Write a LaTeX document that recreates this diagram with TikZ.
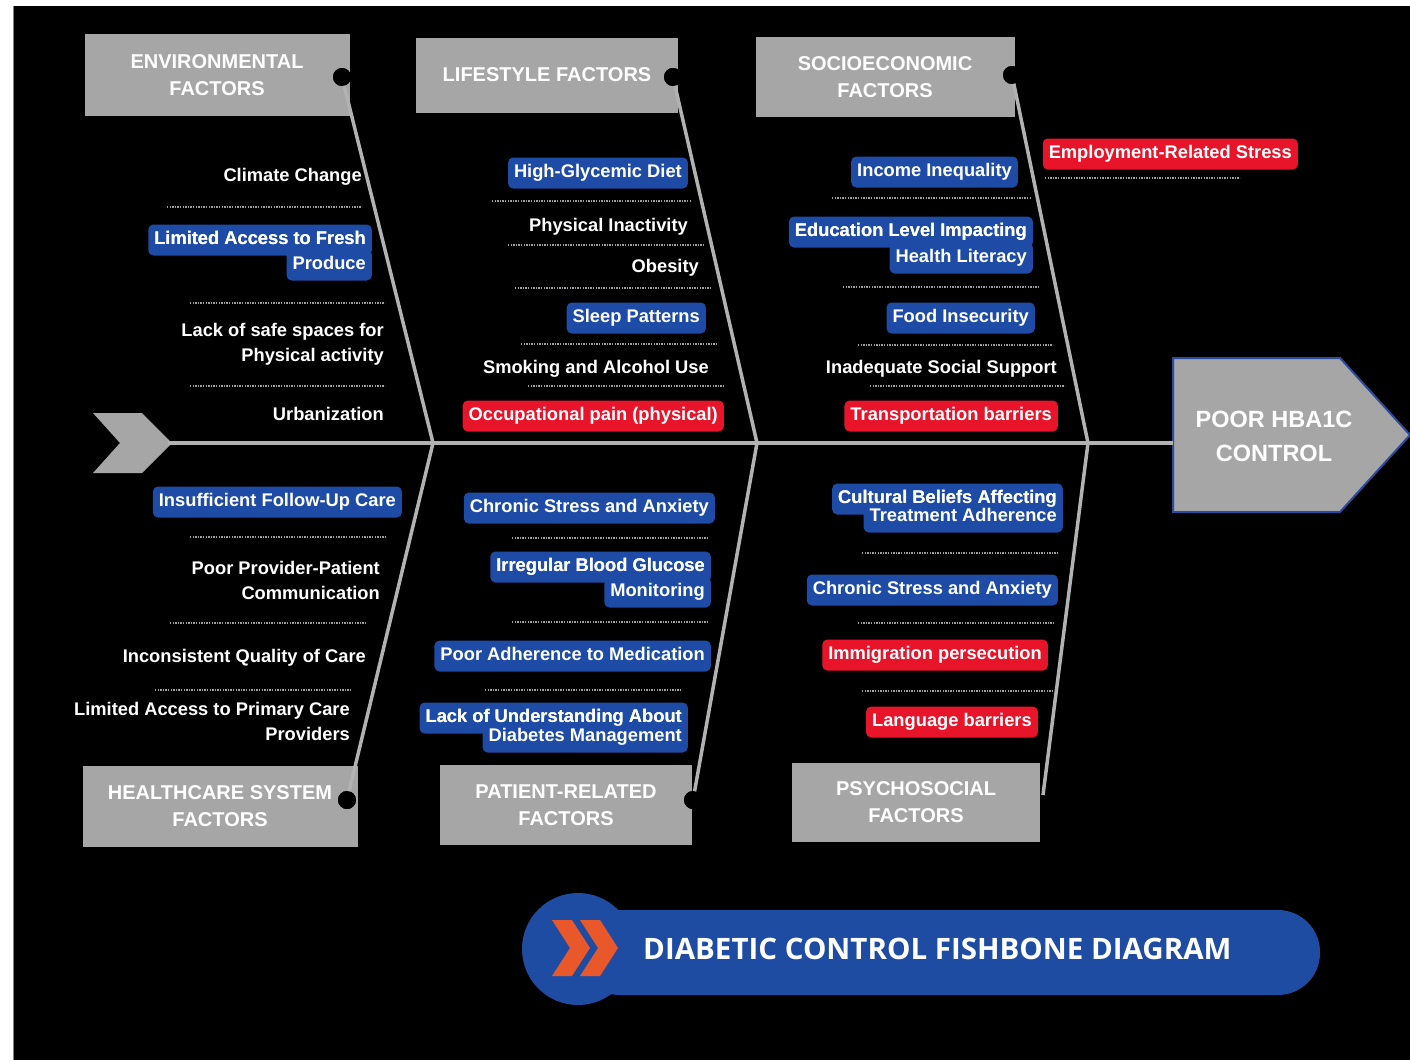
\documentclass[tikz,border=0pt]{standalone}
\usepackage{fontspec}
\setmainfont{Liberation Sans}
\newfontfamily\titlefont{Open Sans}
\definecolor{boxblue}{HTML}{1E4BA5}
\definecolor{boxred}{HTML}{E8142A}
\definecolor{catgray}{HTML}{A6A6A6}
\definecolor{bonegray}{HTML}{B2B2B2}
\definecolor{pillblue}{HTML}{1E4CA3}
\definecolor{chevorange}{HTML}{E8582A}
\definecolor{headline}{HTML}{2B4C9E}
\tikzset{
    item/.style={
           text=white,
           font=\bfseries\fontsize{18.3}{25}\selectfont,
           inner sep=0pt,
           align=right,
           anchor=east,
           yshift=-2pt},
    blu/.style={
           item,
           fill=boxblue,
           rounded corners=5pt,
           inner xsep=6pt,
           text height=13pt,
           text depth=4pt,
           minimum height=31pt},
    rd/.style={
           blu,
           fill=boxred},
    cat/.style={
           fill=catgray,
           text=white,
           font=\bfseries\fontsize{20}{27}\selectfont,
           align=center,
           inner sep=0pt},
    bone/.style={
           draw=bonegray,
           line width=3.5pt},
    sep/.style={
           draw=gray!75,
           line width=1.3pt,
           dash pattern=on 1.3pt off 1.3pt},
    knob/.style={
           circle,
           fill=black,
           minimum size=18pt,
           inner sep=0pt}
}
\begin{document}
\begin{tikzpicture}[x=1pt,y=-1pt]
          \useasboundingbox (0,0) rectangle (1410,1060);
          \fill[white] (0,0) rectangle (1410,1060);
          \fill[black] (13,6) rectangle (1410,1060);
          \draw[gray, line width=1pt] (13.5,6) -- (13.5,1060);
          % spine, tail and head
          \fill[catgray] (93,413) -- (142,413) -- (172,443) -- (142,473) -- (93,473) -- (120,443) -- cycle;
          \filldraw[fill=catgray, draw=headline, line width=2pt] (1173,358) -- (1340,358) -- (1410,435) -- (1340,512) -- (1173,512) -- cycle;
          \node[text=white, font=\bfseries\fontsize{23.5}{34}\selectfont, align=center] (head) at (1274,436) {POOR HBA1C\\CONTROL};
          \coordinate (spinestart) at (168,443);
          \coordinate (spineend) at (1173,443);
          \coordinate (jenv) at (433,443);
          \coordinate (jlife) at (757,443);
          \coordinate (jsocio) at (1088,443);
          \draw[bone] (spinestart) -- (spineend);
          % category boxes
          \node[cat, minimum width=265pt, minimum height=82pt] (env) at (217,75) {ENVIRONMENTAL\\FACTORS};
          \node[cat, minimum width=262pt, minimum height=75pt] (life) at (547,75) {LIFESTYLE FACTORS};
          \node[cat, minimum width=259pt, minimum height=80pt] (socio) at (885,77) {SOCIOECONOMIC\\FACTORS};
          \node[cat, minimum width=275pt, minimum height=81pt] (health) at (220,806) {HEALTHCARE SYSTEM\\FACTORS};
          \node[cat, minimum width=252pt, minimum height=80pt] (patient) at (566,805) {PATIENT-RELATED\\FACTORS};
          \node[cat, minimum width=248pt, minimum height=79pt] (psycho) at (916,802) {PSYCHOSOCIAL\\FACTORS};
          \node[knob] (envdot) at (342,77) {};
          \node[knob] (lifedot) at (673,77) {};
          \node[knob] (sociodot) at (1012,75) {};
          \node[knob] (healthdot) at (347,800) {};
          \node[knob] (patientdot) at (693,800) {};
          \coordinate (psychoend) at (1043,795);
          \draw[bone] (envdot.center) -- (jenv);
          \draw[bone] (lifedot.center) -- (jlife);
          \draw[bone] (sociodot.center) -- (jsocio);
          \draw[bone] (healthdot.center) -- (jenv);
          \draw[bone] (patientdot.center) -- (jlife);
          \draw[bone] (psychoend) -- (jsocio);
          \node[knob] at (envdot) {};
          \node[knob] at (lifedot) {};
          \node[knob] at (sociodot) {};
          \node[knob] at (healthdot) {};
          \node[knob] at (patientdot) {};
          % environmental
          \node[item] (climate) at (362,175) {Climate Change};
          \draw[sep] (167,207) -- (362,207);
          \node[blu] (freshA) at (372,238) {Limited Access to Fresh};
          \node[blu] (freshB) at (372,263) {Produce};
          \node[blu, fill=none] at (372,238) {Limited Access to Fresh};
          \draw[sep] (190,303) -- (385,303);
          \node[item] (safe) at (384,342) {Lack of safe spaces for\\Physical activity};
          \draw[sep] (190,386) -- (385,386);
          \node[item] (urban) at (384,412) {Urbanization};
          % lifestyle
          \node[blu] (glycemic) at (688,171) {High-Glycemic Diet};
          \draw[sep] (492,201) -- (690,201);
          \node[item] (inactive) at (688,225) {Physical Inactivity};
          \draw[sep] (508,245) -- (705,245);
          \node[item] (obesity) at (699,266) {Obesity};
          \draw[sep] (515,288) -- (712,288);
          \node[blu] (sleep) at (706,316) {Sleep Patterns};
          \draw[sep] (521,344) -- (717,344);
          \node[item] (smoking) at (709,367) {Smoking and Alcohol Use};
          \draw[sep] (528,386) -- (724,386);
          \node[rd] (occupational) at (724,414) {Occupational pain (physical)};
          % socioeconomic
          \node[blu] (income) at (1018,170) {Income Inequality};
          \draw[sep] (832,198) -- (1030,198);
          \node[blu] (eduA) at (1033,230) {Education Level Impacting};
          \node[blu] (eduB) at (1033,256) {Health Literacy};
          \node[blu, fill=none] at (1033,230) {Education Level Impacting};
          \draw[sep] (843,287) -- (1040,287);
          \node[blu] (food) at (1035,316) {Food Insecurity};
          \draw[sep] (858,345) -- (1053,345);
          \node[item] (social) at (1057,367) {Inadequate Social Support};
          \draw[sep] (870,386) -- (1065,386);
          \node[rd] (transport) at (1058,414) {Transportation barriers};
          \node[rd] (employment) at (1298,152) {Employment-Related Stress};
          \draw[sep] (1045,178) -- (1240,178);
          % healthcare system
          \node[blu] (followup) at (402,500) {Insufficient Follow-Up Care};
          \draw[sep] (190,537) -- (386,537);
          \node[item] (provider) at (380,578) {Poor Provider-Patient\\Communication};
          \draw[sep] (170,623) -- (366,623);
          \node[item] (quality) at (366,656) {Inconsistent Quality of Care};
          \draw[sep] (155,690) -- (351,690);
          \node[item] (primary) at (350,719) {Limited Access to Primary Care\\Providers};
          % patient-related
          \node[blu] (stressA) at (715,506) {Chronic Stress and Anxiety};
          \draw[sep] (512,538) -- (708,538);
          \node[blu] (glucoseA) at (711,565) {Irregular Blood Glucose};
          \node[blu] (glucoseB) at (711,590) {Monitoring};
          \node[blu, fill=none] at (711,565) {Irregular Blood Glucose};
          \draw[sep] (512,622) -- (708,622);
          \node[blu] (adherence) at (711,654) {Poor Adherence to Medication};
          \draw[sep] (485,690) -- (682,690);
          \node[blu] (underA) at (688,716) {Lack of Understanding About};
          \node[blu] (underB) at (688,735) {Diabetes Management};
          \node[blu, fill=none] at (688,716) {Lack of Understanding About};
          % psychosocial
          \node[blu] (culturalA) at (1063,497) {Cultural Beliefs Affecting};
          \node[blu] (culturalB) at (1063,515) {Treatment Adherence};
          \node[blu, fill=none] at (1063,497) {Cultural Beliefs Affecting};
          \draw[sep] (862,553) -- (1058,553);
          \node[blu] (stressB) at (1058,588) {Chronic Stress and Anxiety};
          \draw[sep] (858,623) -- (1055,623);
          \node[rd] (immigration) at (1048,653) {Immigration persecution};
          \draw[sep] (862,691) -- (1053,691);
          \node[rd] (language) at (1038,720) {Language barriers};
          % title pill
          \fill[pillblue, rounded corners=42pt] (578,910) rectangle (1320,995);
          \fill[pillblue] (578,949) circle (56);
          \fill[chevorange] (552,920) -- (572,920) -- (590,948) -- (572,976) -- (552,976) -- (570,948) -- cycle;
          \fill[chevorange] (580,920) -- (600,920) -- (618,948) -- (600,976) -- (580,976) -- (598,948) -- cycle;
          \node[anchor=west, text=white, inner sep=0pt, font=\titlefont\bfseries\fontsize{29.5}{34}\selectfont] (title) at (643,949) {DIABETIC CONTROL FISHBONE DIAGRAM};
         \end{tikzpicture}
\end{document}
